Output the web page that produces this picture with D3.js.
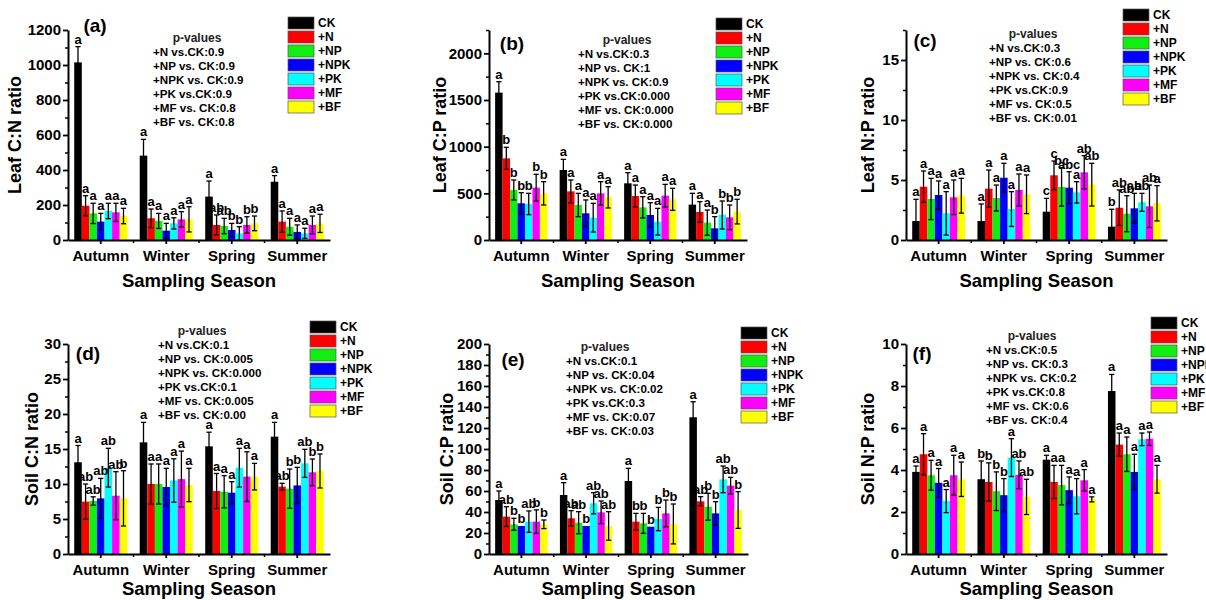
<!DOCTYPE html>
<html>
<head>
<meta charset="utf-8">
<script src="https://cdn.jsdelivr.net/npm/d3@7"></script>
<style>
  body { margin: 0; background: #fff; }
  svg text { font-family: "Liberation Sans", Arial, sans-serif; font-weight: bold; fill: #000; }
</style>
</head>
<body>
<div id="chart"></div>
<script>
const seasons = ["Autumn", "Winter", "Spring", "Summer"];
const treatments = ["CK", "+N", "+NP", "+NPK", "+PK", "+MF", "+BF"];
const colors = ["#000000", "#ff0000", "#11ee11", "#0000ff", "#00ffff", "#ff00ff", "#ffff00"];

// (a) Leaf C:N  -- rows = seasons, cols = treatments
const leafCNMean = [[1015, 196, 152, 105, 166, 158, 137], [482, 124, 109, 53, 95, 118, 118], [248, 86, 80, 57, 38, 86, 95], [333, 105, 76, 46, 38, 86, 95]];
const leafCNSd = [[90, 57, 58, 47, 44, 52, 44], [93, 53, 43, 42, 32, 44, 72], [89, 57, 44, 38, 38, 47, 42], [35, 61, 48, 40, 29, 51, 52]];
const leafCNLetters = [["a","a","a","a","a","a","a"], ["a","a","a","a","a","a","a"], ["a","ab","ab","b","b","b","b"], ["a","a","a","a","a","a","a"]];
const leafCNP = ["+N vs.CK:0.9", "+NP vs. CK:0.9", "+NPK vs. CK:0.9", "+PK vs.CK:0.9", "+MF vs. CK:0.8", "+BF vs. CK:0.8"];

// (b) Leaf C:P
const leafCPMean = [[1579, 875, 536, 393, 386, 561, 500], [750, 521, 375, 286, 239, 500, 457], [607, 471, 350, 268, 196, 475, 436], [379, 300, 186, 125, 268, 243, 304]];
const leafCPSd = [[117, 118, 107, 114, 114, 143, 125], [114, 122, 125, 143, 154, 125, 114], [114, 118, 114, 132, 143, 121, 118], [121, 111, 135, 125, 150, 132, 132]];
const leafCPLetters = [["a","b","b","b","b","b","b"], ["a","a","a","a","a","a","a"], ["a","a","a","a","a","a","a"], ["a","a","a","b","b","b","b"]];
const leafCPP = ["+N vs.CK:0.3", "+NP vs. CK:1", "+NPK vs. CK:0.9", "+PK vs.CK:0.000", "+MF vs. CK:0.000", "+BF vs. CK:0.000"];

// (c) Leaf N:P
const leafNPMean = [[1.58, 4.44, 3.42, 3.75, 2.22, 3.56, 3.69], [1.58, 4.28, 3.5, 5.19, 2.58, 4.17, 3.81], [2.36, 5.39, 4.42, 4.36, 3.97, 5.64, 4.61], [1.11, 2.69, 2.19, 2.64, 3.14, 2.81, 3.06]];
const leafNPSd = [[1.81, 1.31, 1.72, 1.17, 1.81, 1.44, 1.45], [1.42, 1.55, 1.08, 1.2, 1.45, 1.33, 1.61], [1.11, 1.19, 1.6, 1.33, 0.89, 1.39, 1.78], [1.45, 1.48, 1.5, 1.25, 0.75, 1.77, 1.47]];
const leafNPLetters = [["a","a","a","a","a","a","a"], ["a","a","a","a","a","a","a"], ["c","c","bc","abc","a","ab","ab"], ["b","ab","ab","ab","ab","ab","a"]];
const leafNPP = ["+N vs.CK:0.3", "+NP vs. CK:0.6", "+NPK vs. CK:0.4", "+PK vs.CK:0.9", "+MF vs. CK:0.5", "+BF vs. CK:0.01"];

// (d) Soil C:N
const soilCNMean = [[13.1, 7.48, 7.57, 7.95, 12.33, 8.33, 7.95], [15.95, 10.0, 10.0, 9.57, 10.5, 10.7, 9.86], [15.38, 9.0, 8.9, 8.76, 12.33, 11.05, 11.05], [16.76, 9.62, 9.33, 9.8, 12.95, 11.67, 11.86]];
const soilCNSd = [[2.4, 2.52, 0.6, 2.85, 2.77, 3.43, 3.95], [2.85, 2.86, 2.86, 2.67, 3.1, 4.0, 2.38], [2.02, 2.5, 2.3, 1.57, 2.77, 3.55, 1.9], [2.04, 0.48, 2.81, 2.58, 2.0, 1.9, 2.43]];
const soilCNLetters = [["a","ab","ab","ab","ab","ab","b"], ["a","a","a","a","a","a","a"], ["a","a","a","a","a","a","a"], ["a","ab","b","b","ab","b","b"]];
const soilCNP = ["+N vs.CK:0.1", "+NP vs. CK:0.005", "+NPK vs. CK:0.000", "+PK vs.CK:0.1", "+MF vs. CK:0.005", "+BF vs. CK:0.00"];

// (e) Soil C:P
const soilCPMean = [[51.4, 35.6, 28.3, 26.7, 30.8, 30.8, 28.3], [56.2, 34, 29.8, 26.7, 48.3, 39.7, 26.7], [69.5, 30.8, 29.2, 26, 33.3, 38.7, 28.6], [130.2, 50.2, 45, 38.7, 71.1, 65.1, 41.9]];
const soilCPSd = [[8.6, 9.4, 5.7, 0, 10.2, 11.2, 4.1], [11.7, 7.3, 10.5, 0, 10.1, 10.8, 13.6], [12.1, 7.9, 9.5, 0, 11.1, 12.7, 19], [14.8, 4.4, 12.8, 11.1, 12.7, 7.9, 17.5]];
const soilCPLetters = [["a","ab","b","b","ab","b","b"], ["a","ab","ab","b","ab","ab","ab"], ["a","b","b","b","b","b","b"], ["a","ab","b","b","ab","ab","b"]];
const soilCPP = ["+N vs.CK:0.1", "+NP vs. CK:0.04", "+NPK vs. CK:0.02", "+PK vs.CK:0.3", "+MF vs. CK:0.07", "+BF vs. CK:0.03"];

// (f) Soil N:P
const soilNPMean = [[3.91, 4.75, 3.75, 3.39, 2.52, 3.75, 3.56], [3.56, 3.43, 2.99, 2.8, 4.59, 3.77, 2.72], [4.49, 3.43, 3.28, 3.04, 2.75, 3.51, 2.6], [7.76, 5.21, 4.75, 3.91, 5.46, 5.49, 3.56]];
const soilNPSd = [[0.28, 0.98, 0.71, 0.68, 0.55, 0.95, 0.82], [0.87, 0.91, 0.92, 0.79, 0.9, 0.66, 0.84], [0.21, 0.79, 0.94, 0.63, 0.84, 0.51, 0.12], [0.79, 0.55, 0.82, 0.84, 0.3, 0.32, 0.66]];
const soilNPLetters = [["a","a","a","a","a","a","a"], ["b","b","b","b","a","ab","ab"], ["a","a","a","a","a","a","a"], ["a","a","a","a","a","a","a"]];
const soilNPP = ["+N vs.CK:0.5", "+NP vs. CK:0.3", "+NPK vs. CK:0.2", "+PK vs.CK:0.8", "+MF vs. CK:0.6", "+BF vs. CK:0.4"];

const panels = [
  { tag: "(a)", title: "Leaf C:N ratio", mean: leafCNMean, sd: leafCNSd, letters: leafCNLetters, pvals: leafCNP,
    max: 1200, step: 200, x0: 68, x1: 330, top: 30, bottom: 240, titleDx: 53, tagX: 95, tagY: 25, legX: 288, legY: 17, pX: 153, pCx: 197, pY: 38 },
  { tag: "(b)", title: "Leaf C:P ratio", mean: leafCPMean, sd: leafCPSd, letters: leafCPLetters, pvals: leafCPP,
    max: 2250, step: 500, x0: 489, x1: 747, top: 30, bottom: 240, titleDx: 49, tagX: 512, tagY: 43, legX: 716, legY: 18, pX: 578, pCx: 627, pY: 40 },
  { tag: "(c)", title: "Leaf N:P ratio", mean: leafNPMean, sd: leafNPSd, letters: leafNPLetters, pvals: leafNPP,
    max: 17.5, step: 5, x0: 906, x1: 1167, top: 30, bottom: 240, titleDx: 38, tagX: 925, tagY: 40, legX: 1123, legY: 9, pX: 989, pCx: 1033, pY: 34 },
  { tag: "(d)", title: "Soil C:N ratio", mean: soilCNMean, sd: soilCNSd, letters: soilCNLetters, pvals: soilCNP,
    max: 30, step: 5, x0: 68, x1: 330, top: 344, bottom: 554, titleDx: 36, tagX: 88, tagY: 353, legX: 310, legY: 321, pX: 158, pCx: 202, pY: 331 },
  { tag: "(e)", title: "Soil C:P ratio", mean: soilCPMean, sd: soilCPSd, letters: soilCPLetters, pvals: soilCPP,
    max: 200, step: 20, x0: 489, x1: 748, top: 344, bottom: 554, titleDx: 42, tagX: 513, tagY: 359, legX: 741, legY: 327, pX: 566, pCx: 605, pY: 347 },
  { tag: "(f)", title: "Soil N:P ratio", mean: soilNPMean, sd: soilNPSd, letters: soilNPLetters, pvals: soilNPP,
    max: 10, step: 2, x0: 906, x1: 1167, top: 344, bottom: 554, titleDx: 38, tagX: 922, tagY: 353, legX: 1151, legY: 317, pX: 986, pCx: 1032, pY: 336 }
];

const svg = d3.select("#chart")
  .append("svg")
  .attr("width", 1206)
  .attr("height", 600);

function drawPanel(p) {
  const g = svg.append("g");

  const x = d3.scaleBand().domain(seasons).range([p.x0, p.x1]).paddingInner(0.19).paddingOuter(0.095);
  const xi = d3.scaleBand().domain(treatments).range([0, x.bandwidth()]);
  const y = d3.scaleLinear().domain([0, p.max]).range([p.bottom, p.top]);

  const rows = [];
  seasons.forEach((s, i) => treatments.forEach((t, j) => {
    rows.push({ s, t, j, v: p.mean[i][j], e: p.sd[i][j], l: p.letters[i][j] });
  }));
  const cx = d => x(d.s) + xi(d.t) + xi.bandwidth() / 2;

  g.selectAll("rect.bar").data(rows).join("rect")
    .attr("class", "bar")
    .attr("x", d => x(d.s) + xi(d.t))
    .attr("y", d => y(d.v))
    .attr("width", xi.bandwidth())
    .attr("height", d => y(0) - y(d.v))
    .attr("fill", d => colors[d.j]);

  // error bars (mean +/- sd)
  const eb = g.selectAll("g.err").data(rows.filter(d => d.e > 0)).join("g")
    .attr("class", "err")
    .attr("stroke", "#000")
    .attr("stroke-width", 1.3);
  eb.append("line")
    .attr("x1", cx).attr("x2", cx)
    .attr("y1", d => y(Math.max(0, d.v - d.e))).attr("y2", d => y(d.v + d.e));
  eb.append("line")
    .attr("x1", d => cx(d) - 2.6).attr("x2", d => cx(d) + 2.6)
    .attr("y1", d => y(d.v + d.e)).attr("y2", d => y(d.v + d.e));
  eb.append("line")
    .attr("x1", d => cx(d) - 2.6).attr("x2", d => cx(d) + 2.6)
    .attr("y1", d => y(Math.max(0, d.v - d.e))).attr("y2", d => y(Math.max(0, d.v - d.e)));

  // significance letters
  g.selectAll("text.sig").data(rows).join("text")
    .attr("class", "sig")
    .attr("x", cx)
    .attr("y", d => y(d.v + d.e) - 3)
    .attr("text-anchor", "middle")
    .style("font-size", "13px")
    .text(d => d.l);

  // y axis: major + minor ticks
  const majors = d3.range(0, p.max + 1e-9, p.step);
  const minors = d3.range(p.step / 2, p.max + 1e-9, p.step).filter(v => !majors.includes(v));
  g.append("g")
    .attr("transform", `translate(${p.x0},0)`)
    .call(d3.axisLeft(y).tickValues(minors).tickSize(3).tickSizeOuter(0).tickFormat(""))
    .call(a => a.select(".domain").remove())
    .call(a => a.selectAll("line").attr("stroke-width", 1.5));
  g.append("g")
    .attr("transform", `translate(${p.x0},0)`)
    .call(d3.axisLeft(y).tickValues(majors).tickSize(5).tickSizeOuter(0).tickPadding(2).tickFormat(d3.format("~g")))
    .call(a => a.select(".domain").attr("stroke-width", 2))
    .call(a => a.selectAll("line").attr("stroke-width", 1.8))
    .call(a => a.selectAll("text").style("font-size", "15px"));

  // x axis
  const bounds = [1, 2, 3].map(k => p.x0 + k * x.step());
  g.append("g")
    .selectAll("line").data(bounds).join("line")
    .attr("x1", d => d).attr("x2", d => d)
    .attr("y1", p.bottom).attr("y2", p.bottom + 3)
    .attr("stroke", "#000").attr("stroke-width", 1.5);
  g.append("g")
    .attr("transform", `translate(0,${p.bottom})`)
    .call(d3.axisBottom(x).tickSize(4).tickSizeOuter(0).tickPadding(6))
    .call(a => a.select(".domain").attr("stroke-width", 2))
    .call(a => a.selectAll("line").attr("stroke-width", 1.8))
    .call(a => a.selectAll("text").style("font-size", "15px"));

  // axis titles
  g.append("text")
    .attr("transform", `translate(${p.x0 - p.titleDx},${(p.top + p.bottom) / 2}) rotate(-90)`)
    .attr("text-anchor", "middle")
    .attr("dy", "0.35em")
    .style("font-size", "18px")
    .text(p.title);
  g.append("text")
    .attr("x", (p.x0 + p.x1) / 2)
    .attr("y", Math.min(p.bottom + 47, 595))
    .attr("text-anchor", "middle")
    .style("font-size", "18.5px")
    .text("Sampling Season");

  // panel tag
  g.append("text")
    .attr("x", p.tagX).attr("y", p.tagY)
    .attr("text-anchor", "middle").attr("dy", "0.35em")
    .style("font-size", "19px")
    .text(p.tag);

  // p-values block
  g.append("text")
    .attr("x", p.pCx).attr("y", p.pY)
    .attr("text-anchor", "middle").attr("dy", "0.35em")
    .style("font-size", "12px")
    .style("fill", "#222")
    .text("p-values");
  g.selectAll("text.pv").data(p.pvals).join("text")
    .attr("class", "pv")
    .attr("x", p.pX)
    .attr("y", (d, k) => p.pY + 14 * (k + 1))
    .attr("dy", "0.35em")
    .style("font-size", "11.6px")
    .text(d => d);

  // legend
  const leg = g.selectAll("g.leg").data(treatments).join("g")
    .attr("class", "leg")
    .attr("transform", (d, i) => `translate(${p.legX},${p.legY + i * 14})`);
  leg.append("rect")
    .attr("width", 26).attr("height", 12)
    .attr("fill", (d, i) => colors[i])
    .attr("stroke", "#555").attr("stroke-width", 0.7);
  leg.append("text")
    .attr("x", 30).attr("y", 6).attr("dy", "0.35em")
    .style("font-size", "12px")
    .text(d => d);
}

panels.forEach(drawPanel);
</script>
</body>
</html>
